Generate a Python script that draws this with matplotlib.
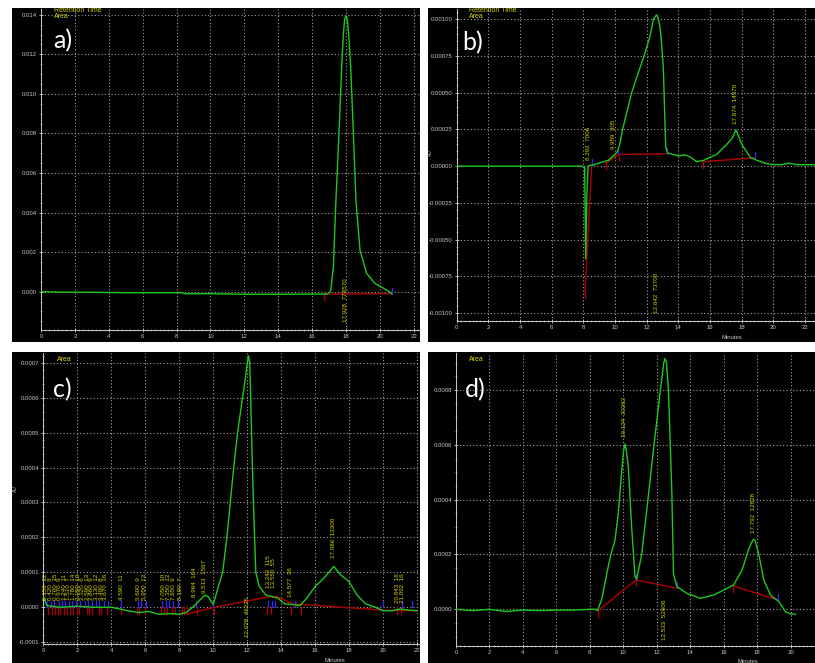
import matplotlib
matplotlib.use("Agg")
import matplotlib.pyplot as plt
from matplotlib.ticker import FixedLocator, MultipleLocator, FormatStrFormatter

# ---------------- data ----------------
x_ticks = [0, 2, 4, 6, 8, 10, 12, 14, 16, 18, 20, 22]

# panel a
a_time = [0, 1, 3, 5, 8.3, 8.5, 10, 12, 14, 16.9, 17.09, 17.25, 17.40, 17.58, 17.74, 17.84,
          17.91, 17.97, 18.03, 18.09, 18.15, 18.27, 18.43, 18.58, 18.82, 19.21, 19.7, 20.4, 20.7]
a_signal = [0, -0.00002, -0.00003, -0.00005, -0.00005, -0.0001, -0.0001, -0.00013, -0.00013,
            -0.00012, 0.00003, 0.00126, 0.00463, 0.0080, 0.01137, 0.01306, 0.01372, 0.01394,
            0.0139, 0.0136, 0.01306, 0.01137, 0.0080, 0.00463, 0.0021, 0.00093, 0.00042,
            0.00008, -0.0001]
a_base_t = [16.7, 20.7]
a_base_y = [-0.00012, -0.0001]
a_start_t, a_start_y = [16.7], [-0.00012]
a_end_t, a_end_y = [20.7], [-0.0001]
a_lab_t = [17.97]
a_lab_y = [-0.00152]
a_lab_s = ["17.928  774570"]
a_yticks = [0.000, 0.002, 0.004, 0.006, 0.008, 0.010, 0.012, 0.014]

# panel b
b_time = [0, 2, 4, 6, 7.9, 8.08, 8.15, 8.22, 8.3, 8.42, 8.7, 9.05, 9.58, 10.0, 10.15, 10.3,
          10.48, 10.75, 11.05, 11.45, 11.83, 12.2, 12.42, 12.55, 12.63, 12.72, 12.85, 12.95,
          13.05, 13.2, 13.32, 13.53, 14.0, 14.42, 14.8, 15.16, 15.6, 16.0, 16.42, 17.16,
          17.4, 17.64, 17.85, 18.0, 18.3, 18.53, 18.95, 19.5, 20.0, 20.5, 21.0, 21.5, 22.0,
          22.7]
b_signal = [0, 0, 0, 0, 0, -0.00001, -0.00063, -0.0002, 0, 0.000005, 0.00001, 0.000023,
            0.00004, 0.00008, 0.0001, 0.00015, 0.00025, 0.00037, 0.0005, 0.00063, 0.00075,
            0.00088, 0.001, 0.00102, 0.00103, 0.00101, 0.00094, 0.00082, 0.00067, 0.00013,
            0.00009, 0.000084, 0.00007, 0.000077, 0.00006, 0.00003, 0.00004, 0.00006,
            0.00008, 0.00016, 0.00019, 0.000247, 0.00019, 0.00015, 0.0001, 0.00006, 0.00004,
            0.00002, 0.00001, 0.00001, 0.00002, 0.00001, 0.00001, 0.00001]
b_base_segments_t = [[8.1, 8.53], [9.41, 10.21, 13.27], [15.54, 18.84]]
b_base_segments_y = [[-0.00086, 0.00001], [0.00002, 0.00008, 0.000084], [0.00003, 0.000057]]
b_start_t = [8.1, 9.41, 10.23, 15.54]
b_start_y = [-0.00086, 0.00002, 0.00008, 0.00003]
b_end_t = [8.53, 10.21, 13.3, 18.84]
b_end_y = [0.00001, 0.00008, 0.000084, 0.000057]
b_lab_t = [8.31, 9.89, 12.63, 17.64]
b_lab_y = [0.000039, 0.000118, -0.001, 0.000288]
b_lab_s = ["8.292  7006", "9.959  305", "12.642  73700", "17.674  14570"]
b_yticks = [-0.001, -0.00075, -0.0005, -0.00025, 0.0, 0.00025, 0.0005, 0.00075, 0.001]

# panel c
c_time = [0, 0.2, 1, 2, 3, 4, 4.5, 5.0, 5.6, 6.2, 6.8, 7.5, 8.0, 8.4, 8.9, 9.2, 9.5, 9.7,
          10.0, 10.3, 10.55, 10.8, 11.0, 11.2, 11.43, 11.72, 11.9, 12.0, 12.07, 12.14, 12.2,
          12.26, 12.36, 12.5, 12.7, 13.09, 13.5, 13.8, 14.2, 14.6, 15.1, 15.5, 16.0, 16.5,
          17.09, 17.48, 17.97, 18.46, 18.95, 19.43, 20.0, 20.5, 21.0, 21.5, 22.0]
c_signal = [0.00003, 0.000005, 0.0, 0.000003, 0.0, 0.0, -0.000005, -0.00001, -0.000015,
            -0.000012, -0.00002, -0.000018, -0.00002, -0.000015, 0.000005, 0.00002, 0.000035,
            0.00003, 0.000008, 0.00006, 0.0001, 0.0002, 0.0003, 0.0004, 0.0005, 0.0006,
            0.00066, 0.0007, 0.00072, 0.0007, 0.0006, 0.00048, 0.0003, 0.0001, 0.00006,
            0.000035, 0.00003, 0.000026, 0.00001, 0.000008, 0.000005, 0.000026, 0.00006,
            0.000083, 0.000117, 0.000093, 0.000074, 0.000035, 0.00001, 0.000002, -0.00001,
            -0.00001, -0.000005, -0.000008, -0.00001]
c_base_t = [8.5, 10.06, 13.28, 13.77, 14.65, 19.9, 22.0]
c_base_y = [-0.000019, 0.0, 0.00003, 0.00003, 0.00001, -0.000008, -0.00001]
c_small_rt = [0.15, 0.42, 0.7, 0.97, 1.24, 1.51, 1.78, 2.05, 2.32, 2.59, 2.86, 3.13, 3.4,
              3.67, 4.59, 5.6, 5.95, 7.05, 7.35, 7.65, 8.1]
c_small_area = [12, 8, 15, 9, 11, 7, 14, 10, 6, 13, 9, 12, 8, 16, 11, 9, 13, 10, 12, 9, 7]
c_start_t = [0.25, 0.5, 0.7, 0.85, 1.0, 1.2, 1.4, 1.55, 1.75, 2.0, 2.1, 2.55, 2.7, 2.85, 3.25,
             3.4, 3.75, 4.55, 5.5, 5.65, 6.0, 6.95, 7.1, 7.3, 7.55, 7.75, 8.15, 8.3, 8.45,
             9.02, 10.06, 13.18, 13.38, 14.55, 15.14, 20.8, 21.05]
c_end_t = [0.2, 0.45, 0.65, 0.9, 1.1, 1.3, 1.5, 1.7, 1.95, 2.15, 2.45, 2.65, 2.85, 3.1, 3.3,
           3.55, 3.8, 4.6, 5.55, 5.75, 6.05, 7.0, 7.2, 7.4, 7.65, 7.9, 8.98, 10.0, 13.2,
           13.45, 13.65, 14.8, 20.0, 21.1, 21.7]
c_lab_t = [8.9, 9.5, 12.03, 13.24, 13.52, 14.55, 17.09, 20.84, 21.13]
c_lab_y = [0.00003, 0.00004, -0.000084, 0.000054, 0.000054, 0.00003, 0.00014, 0.000011, 0.000011]
c_lab_s = ["8.964  164", "9.513  1567", "12.028  46235", "13.242  115", "13.550  55",
           "14.577  36", "17.086  13300", "20.843  18", "21.092  16"]
c_yticks = [-0.0001, 0.0, 0.0001, 0.0002, 0.0003, 0.0004, 0.0005, 0.0006, 0.0007]

# panel d
d_time = [0, 1, 2, 3, 4, 5, 6, 7, 8, 8.3, 8.45, 8.7, 9.1, 9.3, 9.5, 9.7, 9.9, 10.02, 10.1,
          10.18, 10.3, 10.5, 10.7, 10.8, 11.1, 11.4, 11.8, 12.2, 12.42, 12.5, 12.58, 12.7,
          12.9, 13.0, 13.2, 13.8, 14.6, 15.4, 16.0, 16.6, 17.1, 17.5, 17.72, 17.8, 17.88,
          18.1, 18.4, 18.8, 19.3, 19.7, 20.0, 20.3]
d_signal = [0, -0.000005, 0, -0.000008, -0.000003, -0.000005, -0.000003, -0.000003, 0, 0,
            -0.000005, 0.000034, 0.000156, 0.00021, 0.00025, 0.00035, 0.0005, 0.00058,
            0.000603, 0.00058, 0.00052, 0.0003, 0.00012, 0.00011, 0.0002, 0.00036, 0.00058,
            0.00079, 0.0009, 0.000915, 0.0009, 0.0008, 0.00043, 0.00013, 0.000083, 0.000058,
            0.00004, 0.000052, 0.00007, 0.000089, 0.000143, 0.00022, 0.00025, 0.000255,
            0.00025, 0.0002, 0.000107, 0.000052, 0.000028, -0.000009, -0.000017, -0.000018]
d_base_segments_t = [[8.5, 10.76, 13.19], [16.57, 19.26]]
d_base_segments_y = [[-0.000005, 0.000107, 0.000077], [0.000085, 0.000034]]
d_start_t = [8.5, 10.76, 16.57]
d_start_y = [-0.000005, 0.000107, 0.000085]
d_end_t = [10.76, 13.19, 19.26]
d_end_y = [0.000107, 0.000077, 0.000034]
d_lab_t = [10.1, 12.49, 17.77]
d_lab_y = [0.00063, -0.000112, 0.000277]
d_lab_s = ["10.124  30262", "12.533  52606", "17.792  12828"]
d_yticks = [0.0, 0.0002, 0.0004, 0.0006, 0.0008]

# ---------------- style ----------------
W, H = 815, 663
GREEN = "#1ec81e"
RED = "#b00000"
BLUE = "#2828ff"
YEL = "#d6d600"
TICKC = "#c8c8c8"
FONT = "Liberation Sans"

fig = plt.figure(figsize=(W / 100, H / 100), dpi=100, facecolor="white")


def box(l, t, r, b):
    return [l / W, 1 - b / H, (r - l) / W, (b - t) / H]


def background(l, t, r, b, label, lab_xy, area_xy, ret=False):
    bg = fig.add_axes(box(l, t, r, b))
    bg.set_facecolor("black")
    bg.set_xticks([]); bg.set_yticks([])
    for s in bg.spines.values():
        s.set_visible(False)
    bg.set_xlim(l, r); bg.set_ylim(b, t)
    bg.text(lab_xy[0], lab_xy[1], label, color="white", fontsize=18, family="Lato",
            va="baseline", ha="left", zorder=20)
    bg.text(area_xy[0], area_xy[1], "Area", color=YEL, fontsize=5, family=FONT,
            va="center", ha="left", clip_on=True)
    if ret:
        bg.text(area_xy[0], area_xy[1] - 7, "Retention Time", color=YEL, fontsize=5,
                family=FONT, va="center", ha="left", clip_on=True)
    return bg


def data_axes(l, t, r, b, xlim, ylim, yticks, fmt, minor_y):
    ax = fig.add_axes(box(l, t, r, b))
    ax.set_facecolor("none")
    ax.set_xlim(*xlim); ax.set_ylim(*ylim)
    ax.xaxis.set_major_locator(FixedLocator(x_ticks))
    ax.xaxis.set_minor_locator(MultipleLocator(0.25))
    ax.yaxis.set_major_locator(FixedLocator(yticks))
    ax.yaxis.set_minor_locator(MultipleLocator(minor_y))
    ax.xaxis.set_major_formatter(FormatStrFormatter("%d"))
    ax.yaxis.set_major_formatter(FormatStrFormatter(fmt))
    for s in ["top", "right"]:
        ax.spines[s].set_visible(False)
    for s in ["left", "bottom"]:
        ax.spines[s].set_color(TICKC)
        ax.spines[s].set_linewidth(0.7)
    ax.tick_params(which="major", colors=TICKC, labelsize=4.3, length=2.5, width=0.6,
                   pad=1.5, direction="inout")
    ax.tick_params(which="minor", colors=TICKC, length=2.0, width=0.4, direction="inout")
    for lab in ax.get_xticklabels() + ax.get_yticklabels():
        lab.set_family(FONT)
    ax.grid(True, which="major", color="#a0a0a0", linestyle=(0, (1, 2)), linewidth=0.8)
    ax.set_axisbelow(True)
    return ax


def px_to_dy(ax, px):
    bb = ax.get_position()
    h = bb.height * H
    y0, y1 = ax.get_ylim()
    return px * (y1 - y0) / h


def marks(ax, ts, ys, color, up, px=6):
    dy = px_to_dy(ax, px)
    for t, y in zip(ts, ys):
        if up:
            ax.plot([t, t], [y, y + dy], color=color, lw=0.9, zorder=4)
        else:
            ax.plot([t, t], [y, y - dy], color=color, lw=0.9, zorder=4)


def labels(ax, ts, ys, ss, size=4.5):
    for t, y, s in zip(ts, ys, ss):
        ax.text(t, y, s, rotation=90, ha="center", va="bottom", color=YEL,
                fontsize=size, family=FONT, zorder=6)


# ---------------- panel a ----------------
background(12, 8, 420, 342, "a)", (53, 48), (54, 17), ret=True)
ax = data_axes(41, 9, 420, 330, (0, 22.36), (-0.001936, 0.01429), a_yticks, "%.3f", 0.0005)
ax.plot(a_time, a_signal, color=GREEN, lw=1.0, zorder=5)
ax.plot(a_base_t, a_base_y, color=RED, lw=1.0, zorder=4)
marks(ax, a_start_t, a_start_y, RED, False)
marks(ax, a_end_t, a_end_y, BLUE, True)
labels(ax, a_lab_t, a_lab_y, a_lab_s)

# ---------------- panel b ----------------
background(428, 8, 815, 342, "b)", (462, 50), (469, 17), ret=True)
ax = data_axes(456.7, 9, 815, 320.7, (0, 22.63), (-0.001052, 0.00107), b_yticks, "%.5f",
               0.00005)
ax.plot(b_time, b_signal, color=GREEN, lw=1.0, zorder=5)
for ts, ys in zip(b_base_segments_t, b_base_segments_y):
    ax.plot(ts, ys, color=RED, lw=1.0, zorder=4)
marks(ax, b_start_t, b_start_y, RED, False)
marks(ax, b_end_t, b_end_y, BLUE, True)
labels(ax, b_lab_t, b_lab_y, b_lab_s)
ax.set_xlabel("Minutes", color=TICKC, fontsize=4.2, family=FONT)
ax.xaxis.set_label_coords(0.768, -0.045)
fig.text(430 / W, 1 - 153 / H, "AU", rotation=90, color=TICKC, fontsize=3.5, family=FONT,
         ha="center", va="center")

# ---------------- panel c ----------------
background(12, 352, 420, 663, "c)", (53, 397), (57, 359))
ax = data_axes(43.3, 353, 420, 644.3, (0, 22.16), (-0.000106, 0.000728), c_yticks, "%.4f",
               0.00002)
ax.plot(c_time, c_signal, color=GREEN, lw=1.0, zorder=5)
ax.plot(c_base_t, c_base_y, color=RED, lw=1.0, zorder=4)
c_start_y = [0.0 for _ in c_start_t]
c_end_y = [0.0 for _ in c_end_t]
marks(ax, c_start_t, c_start_y, RED, False, px=7)
marks(ax, c_end_t, c_end_y, BLUE, True, px=6)
labels(ax, c_small_rt, [0.00002] * len(c_small_rt),
       [f"{t:.3f}  {a}" for t, a in zip(c_small_rt, c_small_area)], size=4.5)
labels(ax, c_lab_t, c_lab_y, c_lab_s)
ax.set_xlabel("Minutes", color=TICKC, fontsize=4.2, family=FONT)
ax.xaxis.set_label_coords(0.774, -0.048)
fig.text(15 / W, 1 - 489 / H, "AU", rotation=90, color=TICKC, fontsize=3.5, family=FONT,
         ha="center", va="center")

# ---------------- panel d ----------------
background(428, 352, 815, 663, "d)", (465, 397), (469, 359))
ax = data_axes(456, 353, 815, 646, (0, 21.46), (-0.000134, 0.000935), d_yticks, "%.4f",
               0.00005)
ax.plot(d_time, d_signal, color=GREEN, lw=1.0, zorder=5)
for ts, ys in zip(d_base_segments_t, d_base_segments_y):
    ax.plot(ts, ys, color=RED, lw=1.0, zorder=4)
marks(ax, d_start_t, d_start_y, RED, False)
marks(ax, d_end_t, d_end_y, BLUE, True)
labels(ax, d_lab_t, d_lab_y, d_lab_s)
ax.set_xlabel("Minutes", color=TICKC, fontsize=4.2, family=FONT)
ax.xaxis.set_label_coords(0.814, -0.043)

fig.savefig("out.png", dpi=100, facecolor="white")
